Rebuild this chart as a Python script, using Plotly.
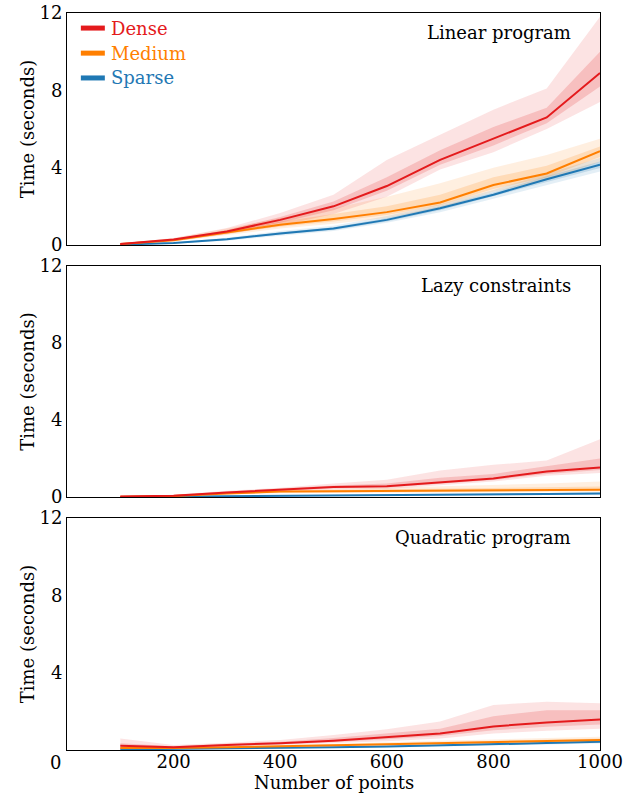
import plotly.graph_objects as go

# ---------------- data ----------------
N_POINTS = [100, 200, 300, 400, 500, 600, 700, 800, 900, 1000]
PANEL_TITLES = ["Linear program", "Lazy constraints", "Quadratic program"]
SERIES_NAMES = ["Dense", "Medium", "Sparse"]
Y_TICKS = [0, 4, 8, 12]
X_TICKS = [0, 200, 400, 600, 800, 1000]

# Linear program
LP_DENSE = [0.05, 0.28, 0.7, 1.3, 2.0, 3.05, 4.4, 5.5, 6.6, 8.9]
LP_DENSE_LO_OUT = [0.03, 0.2, 0.55, 1.0, 1.6, 2.5, 3.9, 4.8, 6.0, 7.4]
LP_DENSE_HI_OUT = [0.08, 0.36, 0.88, 1.65, 2.6, 4.4, 5.7, 7.0, 8.1, 11.8]
LP_DENSE_LO_IN = [0.04, 0.24, 0.62, 1.15, 1.8, 2.8, 4.15, 5.15, 6.3, 8.2]
LP_DENSE_HI_IN = [0.06, 0.31, 0.78, 1.45, 2.25, 3.5, 4.9, 6.1, 7.1, 10.0]

LP_MEDIUM = [0.05, 0.25, 0.65, 1.05, 1.35, 1.7, 2.2, 3.1, 3.7, 4.85]
LP_MEDIUM_LO_OUT = [0.03, 0.18, 0.5, 0.85, 1.1, 1.4, 1.9, 2.75, 3.35, 4.3]
LP_MEDIUM_HI_OUT = [0.08, 0.35, 0.85, 1.4, 1.9, 2.5, 3.2, 4.0, 4.65, 5.5]
LP_MEDIUM_LO_IN = [0.04, 0.22, 0.58, 0.95, 1.22, 1.55, 2.05, 2.9, 3.5, 4.55]
LP_MEDIUM_HI_IN = [0.06, 0.29, 0.74, 1.2, 1.6, 2.0, 2.6, 3.5, 4.1, 5.1]

LP_SPARSE = [0.02, 0.1, 0.3, 0.6, 0.85, 1.3, 1.9, 2.6, 3.4, 4.15]
LP_SPARSE_LO_OUT = [0.01, 0.07, 0.22, 0.48, 0.72, 1.15, 1.7, 2.4, 3.1, 3.8]
LP_SPARSE_HI_OUT = [0.03, 0.13, 0.38, 0.72, 1.0, 1.5, 2.1, 2.85, 3.7, 4.5]
LP_SPARSE_LO_IN = [0.015, 0.085, 0.26, 0.54, 0.78, 1.22, 1.8, 2.5, 3.25, 3.98]
LP_SPARSE_HI_IN = [0.025, 0.115, 0.34, 0.66, 0.92, 1.4, 2.0, 2.72, 3.55, 4.32]

# Lazy constraints
LC_DENSE = [0.02, 0.07, 0.24, 0.38, 0.52, 0.56, 0.76, 0.96, 1.33, 1.53]
LC_DENSE_LO_OUT = [0.01, 0.04, 0.18, 0.3, 0.4, 0.42, 0.6, 0.8, 1.1, 1.25]
LC_DENSE_HI_OUT = [0.04, 0.12, 0.32, 0.48, 0.7, 0.9, 1.38, 1.67, 1.9, 3.0]
LC_DENSE_LO_IN = [0.015, 0.055, 0.21, 0.34, 0.46, 0.49, 0.68, 0.88, 1.2, 1.4]
LC_DENSE_HI_IN = [0.03, 0.1, 0.28, 0.43, 0.6, 0.7, 1.0, 1.2, 1.6, 2.0]

LC_MEDIUM = [0.01, 0.05, 0.18, 0.28, 0.3, 0.32, 0.34, 0.35, 0.37, 0.38]
LC_MEDIUM_LO_OUT = [0.005, 0.03, 0.12, 0.2, 0.22, 0.23, 0.24, 0.25, 0.26, 0.27]
LC_MEDIUM_HI_OUT = [0.02, 0.08, 0.25, 0.38, 0.42, 0.48, 0.55, 0.62, 0.7, 0.8]
LC_MEDIUM_LO_IN = [0.008, 0.04, 0.15, 0.24, 0.26, 0.28, 0.29, 0.3, 0.31, 0.32]
LC_MEDIUM_HI_IN = [0.015, 0.065, 0.21, 0.33, 0.36, 0.4, 0.44, 0.47, 0.52, 0.55]

LC_SPARSE = [0.005, 0.02, 0.05, 0.07, 0.08, 0.1, 0.11, 0.13, 0.15, 0.18]
LC_SPARSE_LO_OUT = [0.002, 0.01, 0.03, 0.05, 0.06, 0.07, 0.08, 0.09, 0.1, 0.12]
LC_SPARSE_HI_OUT = [0.01, 0.03, 0.07, 0.1, 0.11, 0.13, 0.15, 0.18, 0.21, 0.25]
LC_SPARSE_LO_IN = [0.003, 0.015, 0.04, 0.06, 0.07, 0.085, 0.095, 0.11, 0.125, 0.15]
LC_SPARSE_HI_IN = [0.007, 0.025, 0.06, 0.085, 0.095, 0.115, 0.13, 0.155, 0.18, 0.21]

# Quadratic program
QP_DENSE = [0.22, 0.14, 0.26, 0.35, 0.48, 0.66, 0.85, 1.22, 1.42, 1.58]
QP_DENSE_LO_OUT = [0.08, 0.08, 0.18, 0.25, 0.35, 0.45, 0.6, 0.85, 1.0, 1.1]
QP_DENSE_HI_OUT = [0.6, 0.26, 0.38, 0.52, 0.78, 1.07, 1.47, 2.33, 2.5, 2.42]
QP_DENSE_LO_IN = [0.14, 0.11, 0.22, 0.3, 0.42, 0.55, 0.72, 1.02, 1.2, 1.32]
QP_DENSE_HI_IN = [0.35, 0.2, 0.32, 0.43, 0.62, 0.85, 1.1, 1.75, 2.05, 2.05]

QP_MEDIUM = [0.1, 0.1, 0.14, 0.18, 0.24, 0.3, 0.36, 0.42, 0.48, 0.52]
QP_MEDIUM_LO_OUT = [0.06, 0.07, 0.1, 0.13, 0.18, 0.22, 0.27, 0.32, 0.36, 0.4]
QP_MEDIUM_HI_OUT = [0.15, 0.14, 0.2, 0.25, 0.32, 0.4, 0.48, 0.56, 0.62, 0.68]
QP_MEDIUM_LO_IN = [0.08, 0.085, 0.12, 0.155, 0.21, 0.26, 0.31, 0.37, 0.42, 0.46]
QP_MEDIUM_HI_IN = [0.12, 0.12, 0.17, 0.21, 0.28, 0.35, 0.42, 0.49, 0.55, 0.6]

QP_SPARSE = [0.03, 0.05, 0.07, 0.1, 0.14, 0.18, 0.23, 0.3, 0.36, 0.43]
QP_SPARSE_LO_OUT = [0.015, 0.03, 0.05, 0.07, 0.1, 0.13, 0.17, 0.23, 0.28, 0.34]
QP_SPARSE_HI_OUT = [0.05, 0.07, 0.1, 0.13, 0.18, 0.23, 0.29, 0.37, 0.44, 0.52]
QP_SPARSE_LO_IN = [0.02, 0.04, 0.06, 0.085, 0.12, 0.155, 0.2, 0.265, 0.32, 0.385]
QP_SPARSE_HI_IN = [0.04, 0.06, 0.085, 0.115, 0.16, 0.205, 0.26, 0.335, 0.4, 0.475]

# ---------------- styling ----------------
COLORS = {"Dense": (228, 26, 28), "Medium": (255, 127, 0), "Sparse": (31, 120, 180)}
FONT = "DejaVu Serif"
FS = 18

panels = [
    {
        "Dense": (LP_DENSE, LP_DENSE_LO_OUT, LP_DENSE_HI_OUT, LP_DENSE_LO_IN, LP_DENSE_HI_IN),
        "Medium": (LP_MEDIUM, LP_MEDIUM_LO_OUT, LP_MEDIUM_HI_OUT, LP_MEDIUM_LO_IN, LP_MEDIUM_HI_IN),
        "Sparse": (LP_SPARSE, LP_SPARSE_LO_OUT, LP_SPARSE_HI_OUT, LP_SPARSE_LO_IN, LP_SPARSE_HI_IN),
    },
    {
        "Dense": (LC_DENSE, LC_DENSE_LO_OUT, LC_DENSE_HI_OUT, LC_DENSE_LO_IN, LC_DENSE_HI_IN),
        "Medium": (LC_MEDIUM, LC_MEDIUM_LO_OUT, LC_MEDIUM_HI_OUT, LC_MEDIUM_LO_IN, LC_MEDIUM_HI_IN),
        "Sparse": (LC_SPARSE, LC_SPARSE_LO_OUT, LC_SPARSE_HI_OUT, LC_SPARSE_LO_IN, LC_SPARSE_HI_IN),
    },
    {
        "Dense": (QP_DENSE, QP_DENSE_LO_OUT, QP_DENSE_HI_OUT, QP_DENSE_LO_IN, QP_DENSE_HI_IN),
        "Medium": (QP_MEDIUM, QP_MEDIUM_LO_OUT, QP_MEDIUM_HI_OUT, QP_MEDIUM_LO_IN, QP_MEDIUM_HI_IN),
        "Sparse": (QP_SPARSE, QP_SPARSE_LO_OUT, QP_SPARSE_HI_OUT, QP_SPARSE_LO_IN, QP_SPARSE_HI_IN),
    },
]

fig = go.Figure()

axis_ids = ["", "2", "3"]
for p, panel in enumerate(panels):
    xa = "x" + axis_ids[p]
    ya = "y" + axis_ids[p]
    for name in ["Sparse", "Medium", "Dense"]:
        mid, lo_o, hi_o, lo_i, hi_i = panel[name]
        r, g, b = COLORS[name]
        for lo, hi, alpha in [(lo_o, hi_o, 0.12), (lo_i, hi_i, 0.18)]:
            fig.add_trace(go.Scatter(
                x=N_POINTS + N_POINTS[::-1],
                y=list(hi) + list(lo)[::-1],
                fill="toself", fillcolor=f"rgba({r},{g},{b},{alpha})",
                line=dict(width=0), mode="lines", hoverinfo="skip",
                showlegend=False, xaxis=xa, yaxis=ya))
    for name in ["Sparse", "Medium", "Dense"]:
        mid = panel[name][0]
        r, g, b = COLORS[name]
        fig.add_trace(go.Scatter(
            x=N_POINTS, y=mid, mode="lines",
            line=dict(color=f"rgb({r},{g},{b})", width=2),
            name=name, showlegend=False, xaxis=xa, yaxis=ya))

FIG_W, FIG_H = 638, 794
M_L, M_R, M_T, M_B = 67, 38, 13, 44
H_PLOT = FIG_H - M_T - M_B
domains = [
    [1 - 232 / H_PLOT, 1.0],
    [1 - 484 / H_PLOT, 1 - 253 / H_PLOT],
    [0.0, 1 - 505 / H_PLOT],
]
TICKFONT = dict(family=FONT, size=FS, color="black")

layout = dict(
    width=FIG_W, height=FIG_H,
    margin=dict(l=M_L, r=M_R, t=M_T, b=M_B),
    paper_bgcolor="white", plot_bgcolor="white",
    font=dict(family=FONT, size=FS, color="black"),
    showlegend=False,
)
for p in range(3):
    xd = dict(range=[0, 1000], tickvals=X_TICKS, showline=True, linecolor="black",
              linewidth=1, mirror=True, showgrid=False, zeroline=False, ticks="",
              tickfont=TICKFONT, automargin=False, anchor="y" + axis_ids[p])
    if p > 0:
        xd["matches"] = "x"
    if p < 2:
        xd["showticklabels"] = False
    else:
        xd["tickvals"] = X_TICKS[1:]
        xd["ticklabelstandoff"] = -5
    yd = dict(range=[0, 12], showline=True, linecolor="black", linewidth=1,
              mirror=True, showgrid=False, zeroline=False, ticks="",
              tickfont=TICKFONT, automargin=False, domain=domains[p],
              anchor="x" + axis_ids[p],
              tickvals=Y_TICKS if p < 2 else Y_TICKS[1:],
              title=dict(text="Time (seconds)", font=TICKFONT, standoff=0))
    layout["xaxis" + axis_ids[p]] = xd
    layout["yaxis" + axis_ids[p]] = yd

annotations = []
for p, title in enumerate(PANEL_TITLES):
    annotations.append(dict(
        text=title, xref="x" + axis_ids[p] + " domain",
        yref="y" + axis_ids[p] + " domain", x=0.95, y=0.914,
        xanchor="right", yanchor="middle", showarrow=False,
        font=dict(family=FONT, size=FS, color="black")))
annotations.append(dict(text="0", xref="paper", yref="y3", x=0, y=0, xshift=-4, yshift=-12,
                        xanchor="right", yanchor="middle", showarrow=False,
                        font=TICKFONT))
# x-axis title
annotations.append(dict(text="Number of points", xref="paper", yref="paper",
                        x=0.5, y=-32 / H_PLOT, xanchor="center", yanchor="middle",
                        showarrow=False, font=TICKFONT))

# legend (top panel, upper left)
shapes = []
LEG_Y = [0.935, 0.827, 0.72]
for name, ly in zip(SERIES_NAMES, LEG_Y):
    r, g, b = COLORS[name]
    shapes.append(dict(type="line", xref="x domain", yref="y domain",
                       x0=0.026, x1=0.071, y0=ly, y1=ly,
                       line=dict(color=f"rgb({r},{g},{b})", width=5)))
    annotations.append(dict(text=name, xref="x domain", yref="y domain",
                            x=0.078, y=ly, xanchor="left", yanchor="middle",
                            showarrow=False,
                            font=dict(family=FONT, size=FS, color=f"rgb({r},{g},{b})")))
layout["annotations"] = annotations
layout["shapes"] = shapes

fig.update_layout(**layout)
fig.write_html("out.html", config={"displayModeBar": False},
               post_script="document.body.style.margin='0';")
